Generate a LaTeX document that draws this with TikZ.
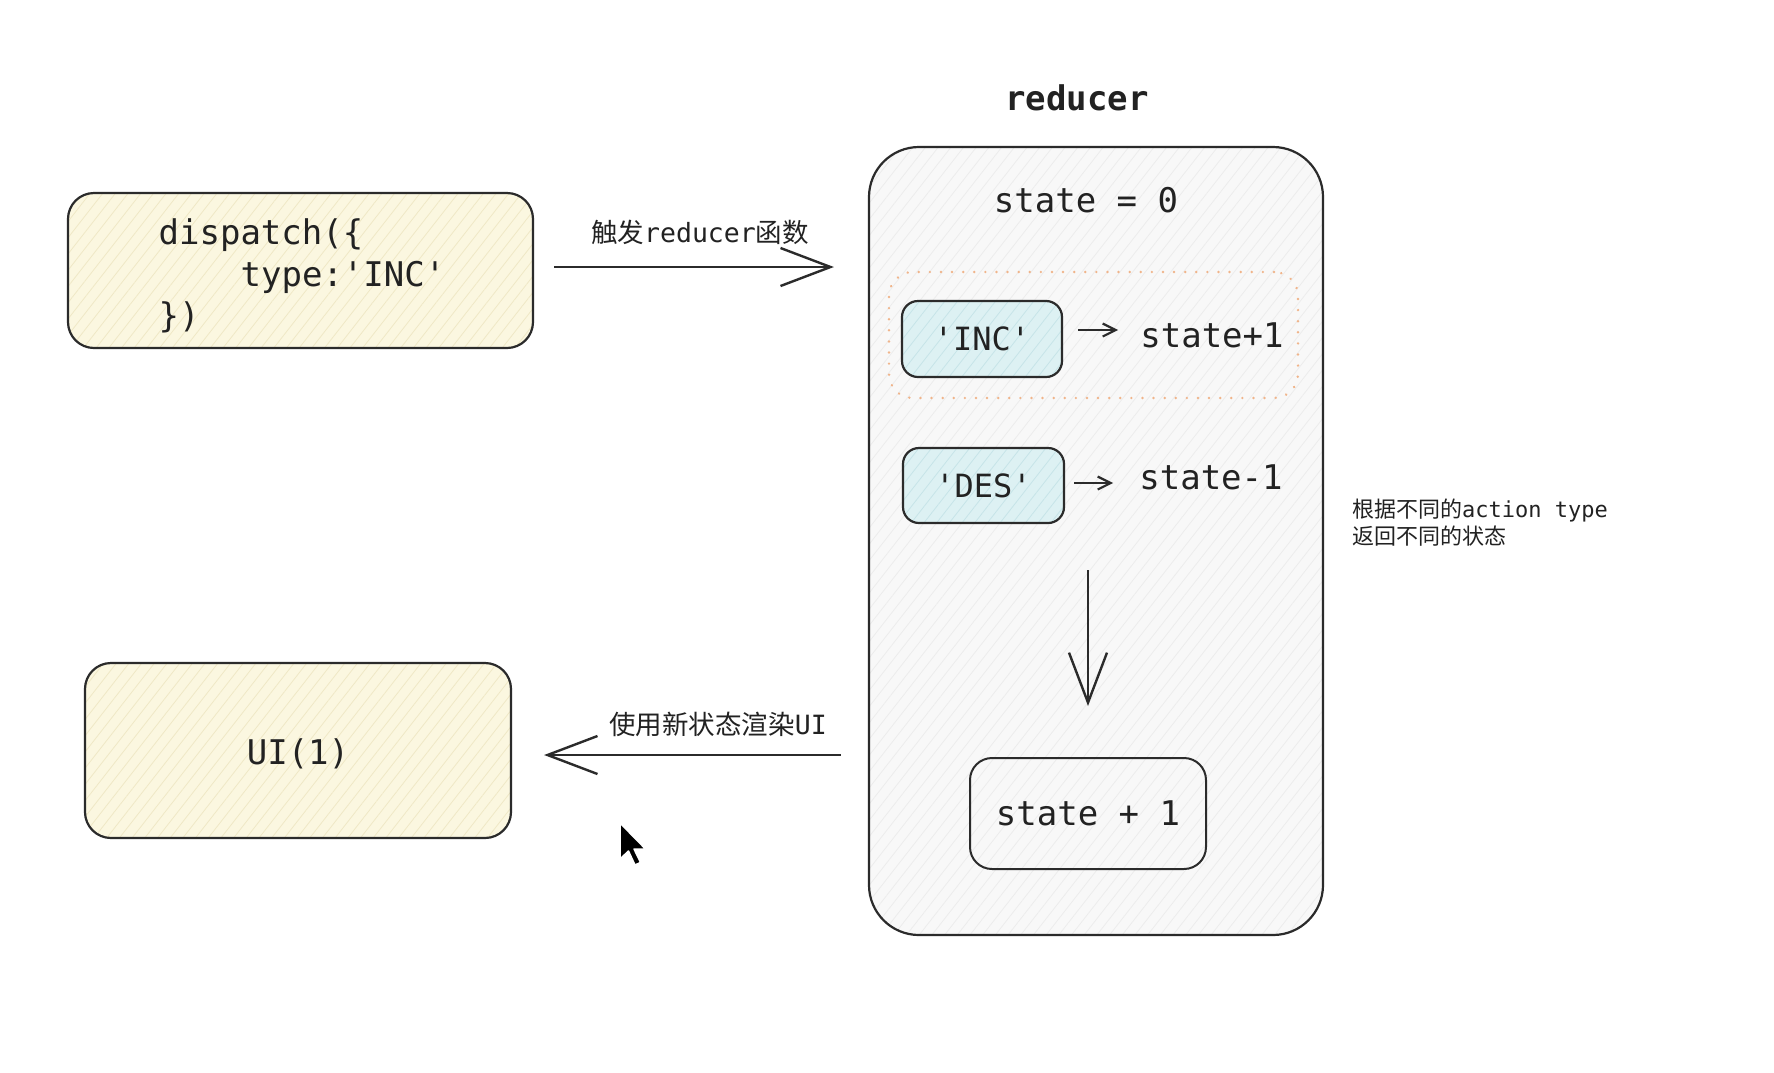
\documentclass[tikz,border=0pt]{standalone}
\usepackage{fontspec}
\setmonofont{DejaVu Sans Mono}
\newfontfamily\cjk{Noto Sans CJK SC}
\usetikzlibrary{arrows.meta,patterns.meta}
\definecolor{linec}{HTML}{2B2B2B}
\definecolor{txt}{HTML}{222222}
\definecolor{cream}{HTML}{FBF7E0}
\definecolor{creamh}{HTML}{EFE8C6}
\definecolor{greyf}{HTML}{F8F8F8}
\definecolor{greyh}{HTML}{ECECEC}
\definecolor{bluef}{HTML}{DDF1F3}
\definecolor{blueh}{HTML}{C6E4E8}
\definecolor{orng}{HTML}{F0B48A}
\tikzset{
  hatch/.style 2 args={preaction={fill=#1},pattern={Lines[angle=52,distance=10pt,line width=0.8pt]},pattern color=#2},
  cbox/.style={draw=linec,line width=2.2pt,rounded corners=26pt,hatch={cream}{creamh},inner sep=0pt},
  redbox/.style={draw=linec,line width=2.2pt,rounded corners=50pt,hatch={greyf}{greyh}},
  keybox/.style={draw=linec,line width=2.2pt,rounded corners=16pt,hatch={bluef}{blueh},
    text=txt,font=\ttfamily\fontsize{32}{38}\selectfont,inner sep=0pt},
  plainbox/.style={draw=linec,line width=2pt,rounded corners=22pt,text=txt,
    font=\ttfamily\fontsize{34}{40}\selectfont,inner sep=0pt},
  mono/.style={text=txt,font=\ttfamily\fontsize{34}{41.5}\selectfont,inner sep=0pt},
  lbl/.style={text=txt,font=\fontsize{26.5}{30}\selectfont,inner sep=0pt},
  bigarrow/.style={draw=linec,line width=2.4pt,-{Straight Barb[length=50pt,width=38pt,line width=2.4pt]}},
  smallarrow/.style={draw=linec,line width=2.2pt,-{Straight Barb[length=13pt,width=13pt,line width=2.2pt]}},
}
\newcommand{\lmono}[1]{{\ttfamily #1}}
\begin{document}
\begin{tikzpicture}[x=1pt,y=-1pt]
\fill[white] (0,0) rectangle (1774,1072);
\useasboundingbox (0,0) rectangle (1774,1072);

% left boxes
\node[cbox,minimum width=465pt,minimum height=155pt] (dispatch) at (300.5,270.5) {};
\node[mono,align=left] (dtext) at (302,276)
  {dispatch(\{\\\hspace*{82pt}type:'INC'\\\})};
\node[cbox,minimum width=426pt,minimum height=175pt] (ui) at (298,750.5) {};
\node[mono] (uitext) at (298,754) {UI(1)};

% reducer
\node[text=txt,font=\ttfamily\bfseries\fontsize{34}{40}\selectfont,inner sep=0pt] (title) at (1077,98) {reducer};
\node[redbox,minimum width=454pt,minimum height=788pt] (reducer) at (1096,541) {};
\node[mono] (state0) at (1086,200) {state = 0};
\node[draw=orng,line width=2.6pt,dash pattern=on 0.1pt off 11pt,line cap=round,rounded corners=24pt,
  minimum width=409pt,minimum height=126pt,inner sep=0pt] (group) at (1093.5,335) {};
\node[keybox,minimum width=160pt,minimum height=76pt] (inc) at (982,339) {'INC'};
\node[mono] (incres) at (1212,335) {state+1};
\node[keybox,minimum width=161pt,minimum height=75pt] (des) at (983.5,485.5) {'DES'};
\node[mono] (desres) at (1211,477) {state-1};
\node[plainbox,minimum width=236pt,minimum height=111pt] (res) at (1088,813.5) {state + 1};

% side note
\node[anchor=west,text=txt,font=\fontsize{22}{27}\selectfont,align=left,inner sep=0pt] (note) at (1352,523)
  {{\cjk 根据不同的}\lmono{action type}\\{\cjk 返回不同的状态}};

% labels
\node[lbl] (lab1) at (700,232) {{\cjk 触发}\lmono{reducer}{\cjk 函数}};
\node[lbl] (lab2) at (718,724) {{\cjk 使用新状态渲染}\lmono{UI}};

% connectors
\draw[bigarrow,shorten <=21pt,shorten >=34pt] ([yshift=3.5pt]dispatch.east) -- ([yshift=3.5pt]dispatch.east -| reducer.west);
\draw[bigarrow,shorten <=27pt,shorten >=32pt] ([yshift=-4.5pt]ui.east -| reducer.west) -- ([yshift=-4.5pt]ui.east);
\draw[smallarrow,shorten <=15pt,shorten >=22pt] ([yshift=5pt]inc.east |- incres.west) -- ([yshift=5pt]incres.west);
\draw[smallarrow,shorten <=9pt,shorten >=26pt] ([yshift=-6pt]des.east |- desres.west) -- ([yshift=-6pt]desres.west);
\draw[bigarrow,shorten <=46pt,shorten >=51pt] (res.north |- des.south) -- (res.north);

% mouse cursor
\coordinate (cursor) at (620,823);
\filldraw[fill=black,draw=white,line width=1.5pt,line join=round]
  (cursor) -- ++(0,36) -- ++(8.5,-8) -- ++(6.5,14) -- ++(5.5,-2.6) -- ++(-6.5,-13.4) -- ++(11.5,0) -- cycle;
\end{tikzpicture}
\end{document}
